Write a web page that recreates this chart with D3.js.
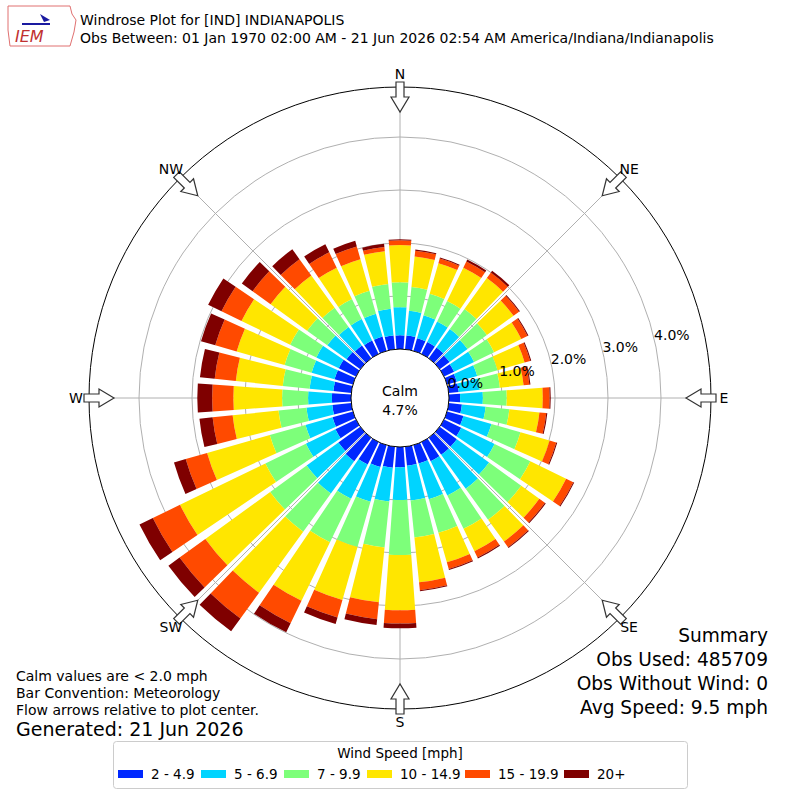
<!DOCTYPE html>
<html>
<head>
<meta charset="utf-8">
<script src="https://cdn.jsdelivr.net/npm/d3@7"></script>
<style>
 body { margin: 0; background: #fff; }
 text { font-family: "DejaVu Sans", sans-serif; }
</style>
</head>
<body>
<div id="chart"></div>
<script>
// direction of each bar (degrees from north, where wind comes from)
const directions = d3.range(0, 360, 10);
const bins = ["2 - 4.9", "5 - 6.9", "7 - 9.9", "10 - 14.9", "15 - 19.9", "20+"];
const binColors = ["#0028ff", "#00d4ff", "#7dff7a", "#ffe600", "#ff4a00", "#7f0000"];
// percent of observations per direction, one array per speed bin
const pct_2_5 = [.26,.26,.25,.25,.25,.23,.21,.19,.19,.21,.25,.32,.36,.40,.40,.40,.36,.36,
                 .38,.40,.43,.47,.55,.51,.43,.40,.36,.36,.34,.36,.36,.32,.30,.28,.28,.26];
const pct_5_7 = [.53,.47,.45,.43,.43,.42,.42,.40,.40,.43,.45,.55,.70,.75,.79,.72,.70,.66,
                 .62,.64,.68,.72,.75,.74,.62,.53,.49,.45,.45,.45,.47,.45,.43,.45,.45,.51];
const pct_7_10 = [.47,.45,.42,.43,.47,.45,.42,.40,.38,.45,.45,.57,.75,.75,.72,.70,.66,.70,
                  1.04,.87,.89,.91,.89,.85,.85,.70,.53,.49,.51,.53,.55,.47,.45,.42,.45,.47];
const pct_10_15 = [.70,.58,.60,.70,.72,.62,.57,.53,.45,.68,.57,.57,.75,.42,.51,.47,.58,.85,
                   1.04,1.04,1.04,1.23,1.42,1.51,1.79,1.23,.87,.92,.89,.94,1.02,.85,.75,.66,.62,.62];
const pct_15_20 = [.09,.11,.09,.13,.13,.13,.13,.11,.11,.13,.13,.13,.15,.13,.13,.13,.13,.15,
                   .25,.32,.34,.47,.60,.60,.57,.42,.38,.40,.40,.42,.42,.42,.38,.32,.25,.08];
const pct_20 = [.02,.02,.02,.04,.04,.02,.02,.02,.02,.02,.02,.02,.02,.02,.02,.02,.02,.02,
                .09,.11,.13,.19,.30,.26,.28,.23,.25,.28,.28,.28,.28,.25,.23,.17,.11,.06];
const series = [pct_2_5, pct_5_7, pct_7_10, pct_10_15, pct_15_20, pct_20];
const ringTicks = [0, 1, 2, 3, 4];
const compass = [["N",0],["NE",45],["E",90],["SE",135],["S",180],["SW",225],["W",270],["NW",315]];

const width = 800, height = 800;
const cx = 400, cy = 398, hole = 49, outerR = 311;

const svg = d3.select("#chart").append("svg")
    .attr("width", width).attr("height", height);

// radial scale: percent -> pixels, starting at the calm hole
const r = d3.scaleLinear().domain([0, 1]).range([hole, hole + 53]);
const rad = d => d * Math.PI / 180;

const g = svg.append("g").attr("transform", `translate(${cx},${cy})`);

// grid
g.selectAll("circle.grid").data(ringTicks.slice(1)).join("circle")
    .attr("r", d => r(d)).attr("fill", "none").attr("stroke", "#b0b0b0").attr("stroke-width", 1);
g.selectAll("line.spoke").data(compass).join("line")
    .attr("x1", 0).attr("y1", 0)
    .attr("x2", d => outerR * Math.sin(rad(d[1])))
    .attr("y2", d => -outerR * Math.cos(rad(d[1])))
    .attr("stroke", "#b0b0b0").attr("stroke-width", 1);

// stacked bars
const stacked = directions.map((dir, i) => {
    let acc = 0;
    return series.map((s, k) => {
        const seg = {dir, k, y0: acc, y1: acc + s[i]};
        acc += s[i];
        return seg;
    });
}).flat();

const half = 4.1;
const arc = d3.arc()
    .innerRadius(d => r(d.y0))
    .outerRadius(d => r(d.y1))
    .startAngle(d => rad(d.dir - half))
    .endAngle(d => rad(d.dir + half));

g.append("g").selectAll("path").data(stacked).join("path")
    .attr("d", arc).attr("fill", d => binColors[d.k]);

// calm hole
g.append("circle").attr("r", hole).attr("fill", "#fff").attr("stroke", "#000").attr("stroke-width", 1);
g.append("text").attr("y", -2).attr("text-anchor", "middle").attr("font-size", 14).text("Calm");
g.append("text").attr("y", 17).attr("text-anchor", "middle").attr("font-size", 14).text("4.7%");

// ring labels
g.selectAll("text.rl").data(ringTicks).join("text")
    .attr("x", d => (r(d) + 18) * Math.sin(rad(77)))
    .attr("y", d => -(r(d) + 18) * Math.cos(rad(77)) + 5)
    .attr("text-anchor", "middle").attr("font-size", 14)
    .text(d => d.toFixed(1) + "%");

// outer circle
g.append("circle").attr("r", outerR).attr("fill", "none").attr("stroke", "#000").attr("stroke-width", 1);

// compass arrows pointing inward
const arrowPath = "M-4,-15 L4,-15 L4,0 L9,0 L0,15 L-9,0 L-4,0 Z";
g.selectAll("path.arrow").data(compass).join("path")
    .attr("d", arrowPath)
    .attr("transform", d => `rotate(${d[1]}) translate(0,${-outerR + 10})`)
    .attr("fill", "#fff").attr("stroke", "#333").attr("stroke-width", 1.2);
g.selectAll("text.dir").data(compass).join("text")
    .attr("x", d => 324 * Math.sin(rad(d[1])))
    .attr("y", d => -324 * Math.cos(rad(d[1])) + 5)
    .attr("text-anchor", "middle").attr("font-size", 14).text(d => d[0]);

// header
const logo = svg.append("g");
logo.append("path").attr("d", "M8,6 L70,6 L72,14 L76,20 L74,32 L70,46 L10,46 L8,30 Z")
    .attr("fill", "none").attr("stroke", "#e07070").attr("stroke-width", 1);
logo.append("line").attr("x1", 22).attr("y1", 24).attr("x2", 50).attr("y2", 24).attr("stroke", "#1a1aa0").attr("stroke-width", 2);
logo.append("path").attr("d", "M40,14 L50,20 L44,22 Z").attr("fill", "#1a1aa0");
logo.append("text").attr("x", 15).attr("y", 42).attr("font-size", 16).attr("font-style", "italic")
    .attr("font-family", "Liberation Serif, serif").attr("fill", "#c03030").text("IEM");

svg.append("text").attr("x", 80).attr("y", 25).attr("font-size", 14)
    .text("Windrose Plot for [IND] INDIANAPOLIS");
svg.append("text").attr("x", 80).attr("y", 43).attr("font-size", 14)
    .text("Obs Between: 01 Jan 1970 02:00 AM - 21 Jun 2026 02:54 AM America/Indiana/Indianapolis");

// summary
const summary = ["Summary", "Obs Used: 485709", "Obs Without Wind: 0", "Avg Speed: 9.5 mph"];
svg.selectAll("text.sum").data(summary).join("text")
    .attr("x", 768).attr("y", (d, i) => 642 + i * 24)
    .attr("text-anchor", "end").attr("font-size", 18.6).text(d => d);

const notes = ["Calm values are < 2.0 mph", "Bar Convention: Meteorology", "Flow arrows relative to plot center."];
svg.selectAll("text.note").data(notes).join("text")
    .attr("x", 16).attr("y", (d, i) => 681 + i * 17)
    .attr("font-size", 14).text(d => d);
svg.append("text").attr("x", 16).attr("y", 736).attr("font-size", 19).text("Generated: 21 Jun 2026");

// legend
svg.append("rect").attr("x", 113.5).attr("y", 741.5).attr("width", 574).attr("height", 47)
    .attr("rx", 3).attr("fill", "#fff").attr("stroke", "#ccc");
svg.append("text").attr("x", 400).attr("y", 758).attr("text-anchor", "middle").attr("font-size", 13.5)
    .text("Wind Speed [mph]");
const legX = [118, 201, 284, 367, 465, 564];
const item = svg.selectAll("g.leg").data(bins).join("g")
    .attr("transform", (d, i) => `translate(${legX[i]},770)`);
item.append("rect").attr("width", 25).attr("height", 8).attr("fill", (d, i) => binColors[i]);
item.append("text").attr("x", 33).attr("y", 9).attr("font-size", 13.5).text(d => d);
</script>
</body>
</html>
